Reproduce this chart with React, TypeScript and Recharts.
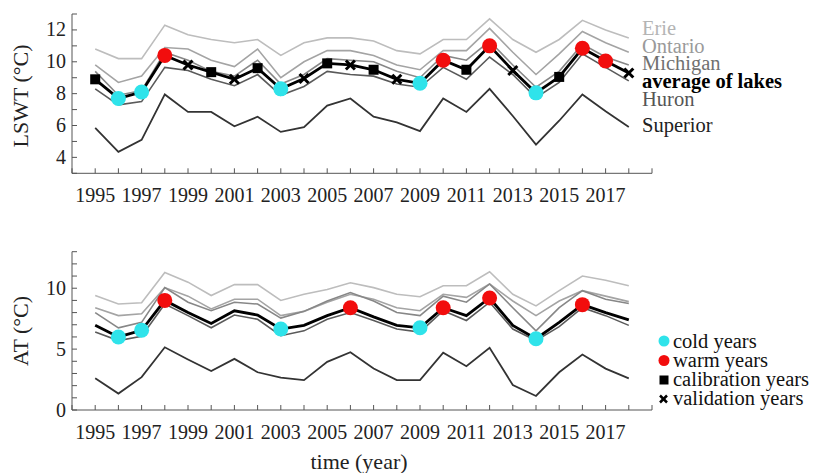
import React from 'react';
import { ComposedChart, Line, XAxis, YAxis } from 'recharts';

const years = [1995, 1996, 1997, 1998, 1999, 2000, 2001, 2002, 2003, 2004, 2005, 2006, 2007, 2008, 2009, 2010, 2011, 2012, 2013, 2014, 2015, 2016, 2017, 2018];

// Lake surface water temperature (°C)
const lswtErie = [10.8, 10.2, 10.2, 12.3, 11.7, 11.4, 11.2, 11.4, 10.4, 11.2, 11.5, 11.5, 11.3, 10.7, 10.5, 11.4, 11.4, 12.7, 11.4, 10.6, 11.4, 12.6, 12.0, 11.5];
const lswtOntario = [9.8, 8.7, 9.1, 10.9, 10.8, 10.1, 9.7, 10.8, 9.0, 10.0, 10.7, 10.7, 10.4, 9.8, 9.5, 10.7, 10.7, 12.1, 10.6, 9.2, 10.5, 11.9, 11.2, 10.6];
const lswtMichigan = [9.4, 7.9, 8.2, 10.6, 10.1, 9.4, 9.1, 10.1, 8.6, 9.2, 10.2, 10.1, 10.0, 9.4, 9.0, 10.4, 10.1, 11.3, 9.8, 8.4, 9.4, 11.1, 10.3, 9.8];
const lswtAverage = [8.9, 7.7, 8.1, 10.4, 9.8, 9.35, 8.9, 9.6, 8.3, 8.95, 9.9, 9.8, 9.5, 8.9, 8.65, 10.1, 9.5, 11.0, 9.45, 8.05, 9.05, 10.85, 10.05, 9.3];
const lswtHuron = [8.3, 7.3, 7.5, 9.65, 9.45, 8.9, 8.5, 9.2, 7.9, 8.45, 9.4, 9.2, 9.1, 8.6, 8.4, 9.65, 8.9, 10.3, 9.2, 7.75, 8.7, 10.5, 9.65, 8.8];
const lswtSuperior = [5.85, 4.35, 5.1, 7.95, 6.85, 6.85, 5.95, 6.55, 5.6, 5.9, 7.25, 7.7, 6.55, 6.2, 5.65, 7.7, 6.85, 8.3, 6.6, 4.8, 6.3, 7.95, 6.9, 5.9];

// Air temperature (°C)
const atErie = [9.4, 8.7, 8.8, 11.3, 10.5, 9.4, 10.3, 10.3, 9.0, 9.5, 9.9, 10.45, 10.05, 9.5, 9.3, 10.2, 10.2, 11.35, 9.5, 8.55, 9.8, 11.0, 10.65, 10.2];
const atOntario = [8.4, 7.75, 7.9, 10.05, 9.35, 8.3, 9.1, 9.1, 7.75, 8.1, 8.85, 9.5, 9.1, 8.4, 8.15, 9.5, 9.25, 10.35, 8.95, 7.75, 8.95, 9.8, 9.35, 8.9];
const atMichigan = [8.0, 6.75, 7.2, 10.05, 8.85, 8.15, 8.85, 8.7, 7.55, 8.1, 8.95, 9.65, 8.95, 8.0, 7.75, 9.35, 8.85, 10.35, 8.4, 6.5, 8.4, 9.8, 9.1, 8.75];
const atAverage = [6.95, 6.0, 6.55, 9.0, 8.0, 7.1, 8.15, 7.8, 6.65, 6.95, 7.75, 8.4, 7.65, 6.95, 6.75, 8.4, 7.75, 9.2, 6.95, 5.85, 7.2, 8.65, 8.0, 7.4];
const atHuron = [6.4, 5.7, 6.05, 8.7, 7.75, 6.75, 7.8, 7.45, 6.1, 6.5, 7.45, 8.0, 7.35, 6.65, 6.4, 8.15, 7.35, 8.85, 6.65, 5.7, 6.85, 8.4, 7.75, 6.95];
const atSuperior = [2.6, 1.35, 2.7, 5.15, 4.15, 3.2, 4.2, 3.1, 2.65, 2.45, 3.95, 4.75, 3.4, 2.45, 2.45, 4.7, 3.6, 5.1, 2.05, 1.15, 3.1, 4.55, 3.4, 2.6];

// Year classes
const lswtColdYears = [1996, 1997, 2003, 2009, 2014];
const lswtWarmYears = [1998, 2010, 2012, 2016, 2017];
const calibrationYears = [1995, 2000, 2002, 2005, 2007, 2011, 2015];
const validationYears = [1999, 2001, 2004, 2006, 2008, 2013, 2018];
const atColdYears = [1996, 1997, 2003, 2009, 2014];
const atWarmYears = [1998, 2006, 2010, 2012, 2016];

// Axis ticks
const xTicks = [1994, 1995, 1996, 1997, 1998, 1999, 2000, 2001, 2002, 2003, 2004, 2005, 2006, 2007, 2008, 2009, 2010, 2011, 2012, 2013, 2014, 2015, 2016, 2017, 2018, 2019];
const xLabelYears = [1995, 1997, 1999, 2001, 2003, 2005, 2007, 2009, 2011, 2013, 2015, 2017];
const lswtTicks = [3, 4, 5, 6, 7, 8, 9, 10, 11, 12, 13];
const lswtLabelTicks = [4, 6, 8, 10, 12];
const atTicks = [0, 1, 2, 3, 4, 5, 6, 7, 8, 9, 10, 11, 12, 13];
const atLabelTicks = [0, 5, 10];

const lakeNames = ['Erie', 'Ontario', 'Michigan', 'average of lakes', 'Huron', 'Superior'];
const markerLabels = ['cold years', 'warm years', 'calibration years', 'validation years'];

const FONT = '"Liberation Serif", "Times New Roman", Times, serif';
const CYAN = '#2fe3ea';
const RED = '#f20d0d';
const AXIS = '#555';

const lswtData = years.map((year, i) => ({
  year,
  erie: lswtErie[i],
  ontario: lswtOntario[i],
  michigan: lswtMichigan[i],
  avg: lswtAverage[i],
  huron: lswtHuron[i],
  superior: lswtSuperior[i],
}));

const atData = years.map((year, i) => ({
  year,
  erie: atErie[i],
  ontario: atOntario[i],
  michigan: atMichigan[i],
  avg: atAverage[i],
  huron: atHuron[i],
  superior: atSuperior[i],
}));

const makeDot = (cold: number[], warm: number[], cal: number[], val: number[]) => (props: any) => {
  const { cx, cy, payload, index } = props;
  const y = payload.year;
  const key = `d-${index}`;
  if (cx == null || cy == null) return <g key={key} />;
  if (cold.includes(y)) return <circle key={key} cx={cx} cy={cy} r={7.5} fill={CYAN} />;
  if (warm.includes(y)) return <circle key={key} cx={cx} cy={cy} r={7.5} fill={RED} />;
  if (cal.includes(y)) return <rect key={key} x={cx - 5} y={cy - 5} width={10} height={10} fill="#000" />;
  if (val.includes(y))
    return (
      <g key={key}>
        <line x1={cx - 4.5} y1={cy - 4.5} x2={cx + 4.5} y2={cy + 4.5} stroke="#000" strokeWidth={3} />
        <line x1={cx - 4.5} y1={cy + 4.5} x2={cx + 4.5} y2={cy - 4.5} stroke="#000" strokeWidth={3} />
      </g>
    );
  return <g key={key} />;
};

const textStyle = { fontFamily: FONT };

const XTick = (props: any) => {
  const { x, y, payload } = props;
  const v = payload.value;
  return (
    <g>
      <line x1={x} y1={y} x2={x} y2={y - 5} stroke={AXIS} strokeWidth={1} />
      {xLabelYears.includes(v) ? (
        <text x={x} y={y + 29} textAnchor="middle" style={textStyle} fontSize={20} fill="#222">
          {v}
        </text>
      ) : null}
    </g>
  );
};

const makeYTick = (labels: number[]) => (props: any) => {
  const { x, y, payload } = props;
  const v = payload.value;
  return (
    <g>
      <line x1={x} y1={y} x2={x + 5} y2={y} stroke={AXIS} strokeWidth={1} />
      {labels.includes(v) ? (
        <text x={x - 6} y={y + 6.5} textAnchor="end" style={textStyle} fontSize={20} fill="#222">
          {v}
        </text>
      ) : null}
    </g>
  );
};

const lineStyles = [
  { key: 'erie', color: '#bdbdbd', width: 1.6 },
  { key: 'ontario', color: '#a4a4a4', width: 1.6 },
  { key: 'michigan', color: '#878787', width: 1.6 },
  { key: 'huron', color: '#5a5a5a', width: 1.6 },
  { key: 'superior', color: '#333333', width: 1.8 },
];

const Panel = ({ data, domain, ticks, labels, top, bottomGap, dot }: any) => (
  <div style={{ position: 'absolute', left: 0, top: 0 }}>
    <ComposedChart
      width={816}
      height={473}
      data={data}
      margin={{ top, right: 164, bottom: 0, left: 32 }}
    >
      <XAxis
        dataKey="year"
        type="number"
        domain={[1994, 2019]}
        ticks={xTicks}
        interval={0}
        tickSize={0}
        tickMargin={0}
        tick={<XTick />}
        height={bottomGap}
        stroke={AXIS}
        allowDataOverflow
      />
      <YAxis
        type="number"
        domain={domain}
        ticks={ticks}
        interval={0}
        tickSize={0}
        tickMargin={0}
        tick={makeYTick(labels)}
        width={40}
        stroke={AXIS}
        allowDataOverflow
      />
      {lineStyles.map((s) => (
        <Line
          key={s.key}
          dataKey={s.key}
          stroke={s.color}
          strokeWidth={s.width}
          dot={false}
          activeDot={false}
          isAnimationActive={false}
          type="linear"
        />
      ))}
      <Line
        dataKey="avg"
        stroke="#000"
        strokeWidth={2.8}
        dot={dot}
        activeDot={false}
        isAnimationActive={false}
        type="linear"
      />
    </ComposedChart>
  </div>
);

const lakeLabelStyle = [
  { color: '#b4b4b4', y: 35, bold: false },
  { color: '#9a9a9a', y: 52.5, bold: false },
  { color: '#707070', y: 70, bold: false },
  { color: '#000', y: 87.5, bold: true },
  { color: '#555', y: 106, bold: false },
  { color: '#222', y: 132, bold: false },
];

export default function App() {
  return (
    <div style={{ position: 'absolute', left: 0, top: 0, width: 816, height: 473, background: '#fff', overflow: 'hidden' }}>
      <Panel
        data={lswtData}
        domain={[3, 13]}
        ticks={lswtTicks}
        labels={lswtLabelTicks}
        top={14}
        bottomGap={473 - 173.3}
        dot={makeDot(lswtColdYears, lswtWarmYears, calibrationYears, validationYears)}
      />
      <Panel
        data={atData}
        domain={[0, 13]}
        ticks={atTicks}
        labels={atLabelTicks}
        top={251.7}
        bottomGap={473 - 410}
        dot={makeDot(atColdYears, atWarmYears, [], [])}
      />
      <svg width={816} height={473} style={{ position: 'absolute', left: 0, top: 0, pointerEvents: 'none' }}>
        <text transform="translate(28,96) rotate(-90)" textAnchor="middle" style={textStyle} fontSize={22} fill="#222">
          LSWT (°C)
        </text>
        <text transform="translate(28,331) rotate(-90)" textAnchor="middle" style={textStyle} fontSize={22} fill="#222">
          AT (°C)
        </text>
        <text x={359} y={469} textAnchor="middle" style={textStyle} fontSize={22} fill="#222">
          time (year)
        </text>
        {lakeNames.map((n, i) => (
          <text
            key={n}
            x={642}
            y={lakeLabelStyle[i].y}
            style={textStyle}
            fontSize={20.5}
            fontWeight={lakeLabelStyle[i].bold ? 'bold' : 'normal'}
            fill={lakeLabelStyle[i].color}
          >
            {n}
          </text>
        ))}
        <circle cx={664} cy={341} r={5.5} fill={CYAN} />
        <circle cx={664} cy={360.5} r={5.5} fill={RED} />
        <rect x={659.5} y={375.5} width={9} height={9} fill="#000" />
        <line x1={660} y1={395.5} x2={667} y2={402.5} stroke="#000" strokeWidth={2.5} />
        <line x1={660} y1={402.5} x2={667} y2={395.5} stroke="#000" strokeWidth={2.5} />
        {markerLabels.map((m, i) => (
          <text key={m} x={673} y={347.5 + i * 19.3} style={textStyle} fontSize={20.5} fill="#111">
            {m}
          </text>
        ))}
      </svg>
    </div>
  );
}
